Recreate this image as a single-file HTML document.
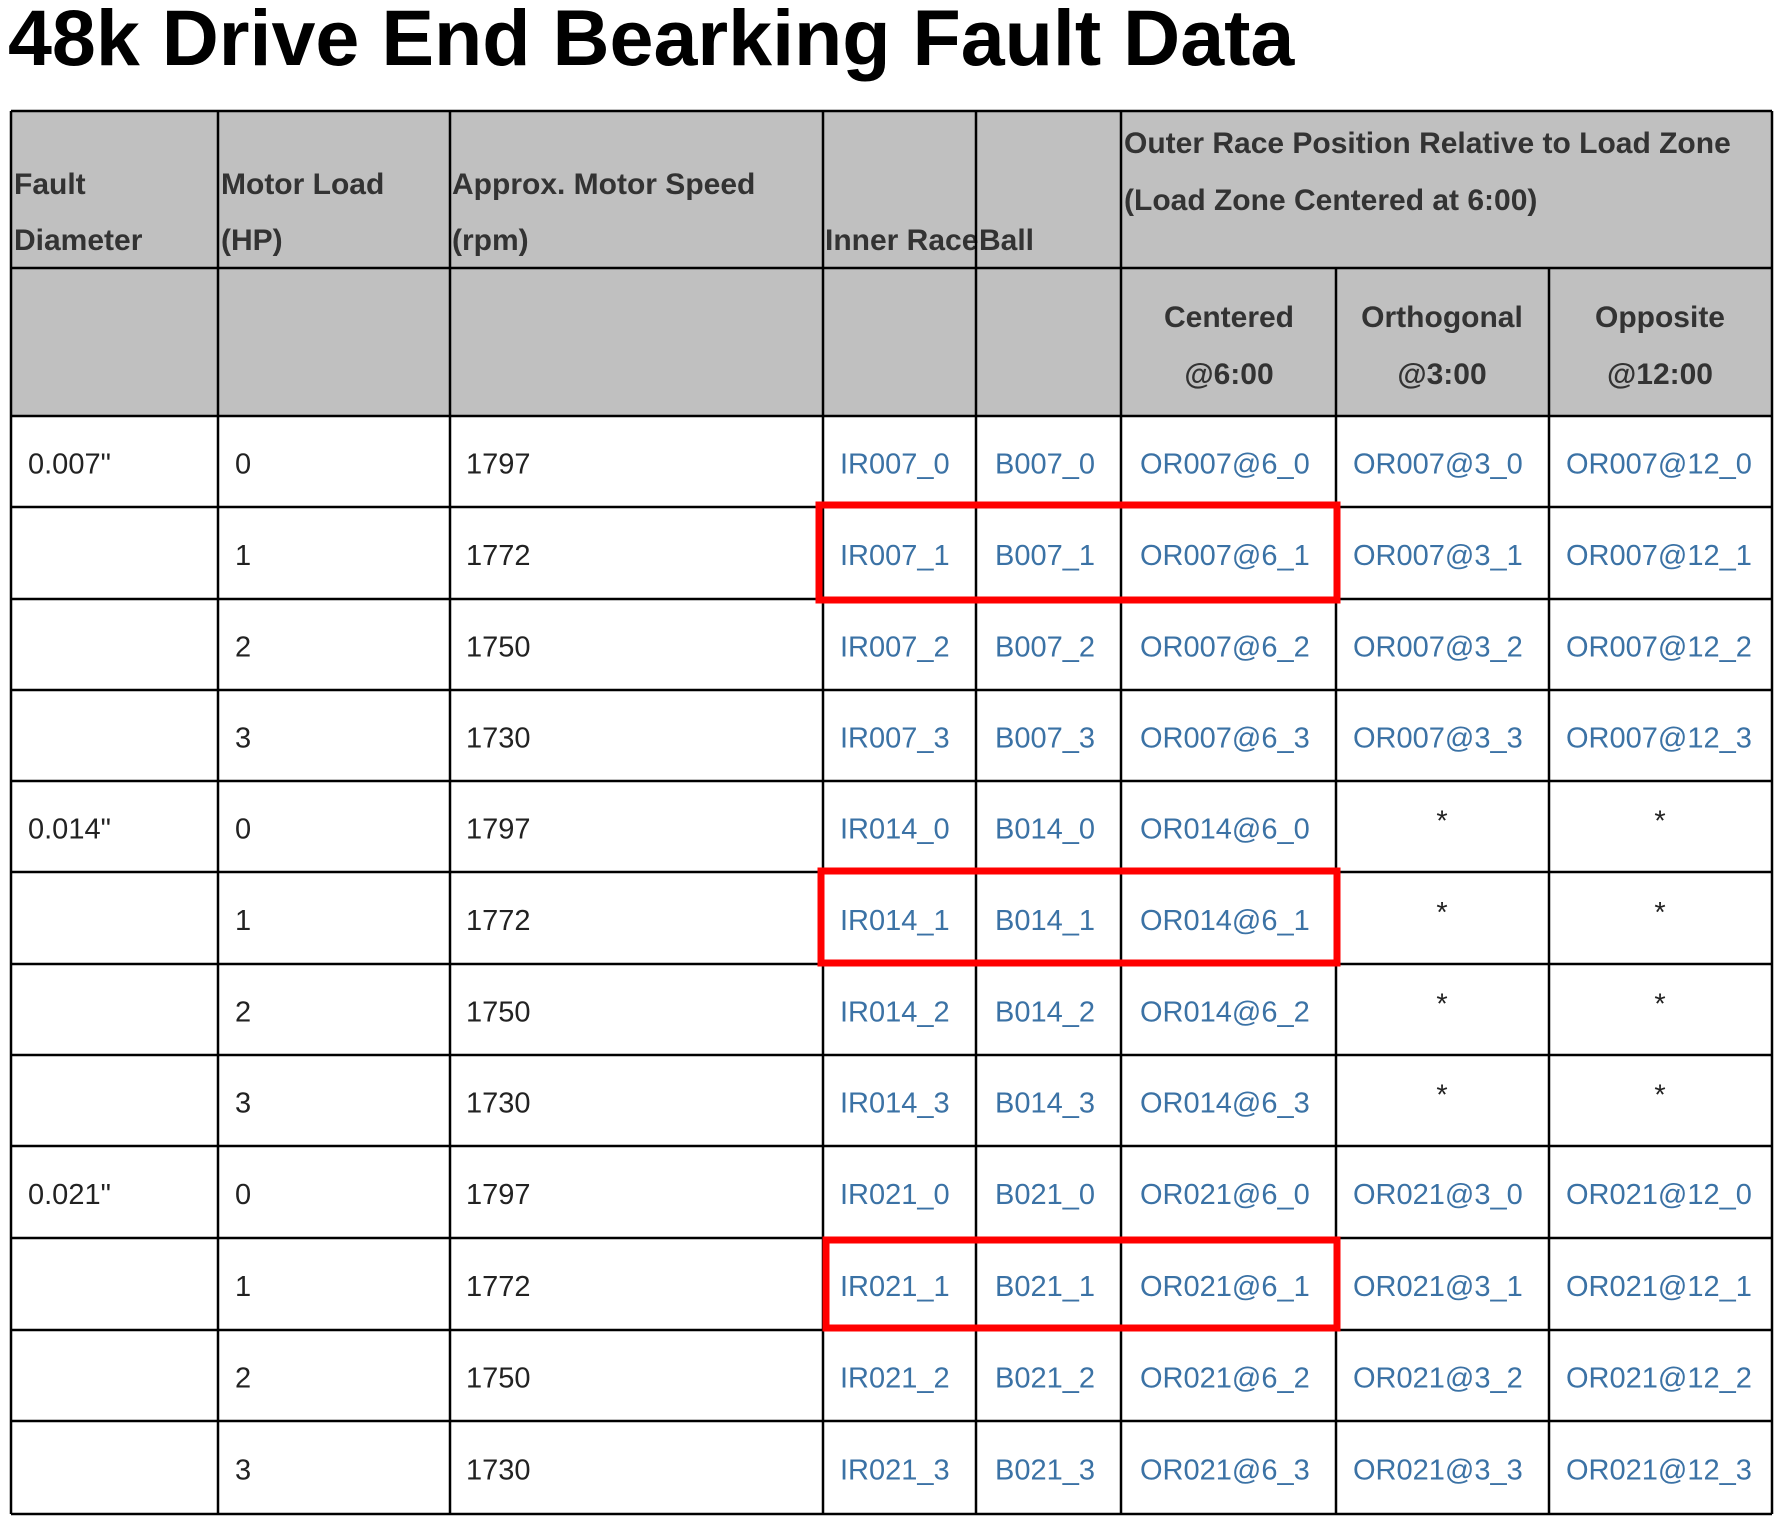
<!DOCTYPE html>
<html><head><meta charset="utf-8"><style>
html,body{margin:0;padding:0;background:#fff;width:1780px;height:1516px;overflow:hidden}
svg text{font-family:"Liberation Sans",sans-serif}
.h{font-weight:bold;font-size:30px;fill:#333}
.b{font-size:29px;fill:#222}
.l{font-size:29px;fill:#3b72a5}
</style></head><body>
<svg id="s" width="1780" height="1516" xmlns="http://www.w3.org/2000/svg">
<text x="8" y="65" font-size="79" font-weight="bold" fill="#000">48k Drive End Bearking Fault Data</text>
<rect x="11" y="111" width="1761" height="305" fill="#c0c0c0"/>
<g class="h">
<text x="14" y="194">Fault</text><text x="14" y="250">Diameter</text>
<text x="221" y="194">Motor Load</text><text x="221" y="250">(HP)</text>
<text x="452" y="194">Approx. Motor Speed</text><text x="452" y="250">(rpm)</text>
<text x="825" y="250">Inner Race</text>
<text x="979" y="250">Ball</text>
<text x="1124" y="153">Outer Race Position Relative to Load Zone</text>
<text x="1124" y="210">(Load Zone Centered at 6:00)</text>
<text x="1229" y="327" text-anchor="middle">Centered</text><text x="1229" y="384" text-anchor="middle">@6:00</text>
<text x="1442" y="327" text-anchor="middle">Orthogonal</text><text x="1442" y="384" text-anchor="middle">@3:00</text>
<text x="1660" y="327" text-anchor="middle">Opposite</text><text x="1660" y="384" text-anchor="middle">@12:00</text>
</g>
<g id="body"></g>
<g id="lines" stroke="#000" stroke-width="2.5"></g>
<g id="red" fill="none" stroke="#f00" stroke-width="7"></g>
</svg>
<script>
const NS="http://www.w3.org/2000/svg";
const diam=["0.007\"","","","","0.014\"","","","","0.021\"","","",""];
const loads=[0,1,2,3,0,1,2,3,0,1,2,3];
const speeds=[1797,1772,1750,1730,1797,1772,1750,1730,1797,1772,1750,1730];
const sizes=["007","007","007","007","014","014","014","014","021","021","021","021"];
const hasOrth=[1,1,1,1,0,0,0,0,1,1,1,1];
const colX=[11,218,450,823,976,1121,1336,1549,1772];
const rowY=[111,268,416,507,599,690,781,872,964,1055,1146,1238,1330,1421,1514];
const body=document.getElementById('body');
function t(x,y,cls,s,anchor){const e=document.createElementNS(NS,'text');e.setAttribute('x',x);e.setAttribute('y',y);e.setAttribute('class',cls);if(anchor)e.setAttribute('text-anchor',anchor);e.textContent=s;body.appendChild(e);return e;}
for(let i=0;i<12;i++){
  const y=(rowY[i+2]+rowY[i+3])/2+12;
  let e;
  e=t(28,y,'b',diam[i]);
  
  
  e=t(235,y,'b',String(loads[i]));
  
  
  e=t(466,y,'b',String(speeds[i]));
  
  
  const s=sizes[i],l=loads[i];
  e=t(840,y,'l','IR'+s+'_'+l);
  
  
  e=t(995,y,'l','B'+s+'_'+l);
  
  
  e=t(1140,y,'l','OR'+s+'@6_'+l);
  
  
  if(hasOrth[i]){
    e=t(1353,y,'l','OR'+s+'@3_'+l);
    
    
    e=t(1566,y,'l','OR'+s+'@12_'+l);
    
    
  } else {
    e=t(1442,y-8,'b','*','middle');
    
    
    e=t(1660,y-8,'b','*','middle');
    
    
  }
}
const lines=document.getElementById('lines');
function ln(x1,y1,x2,y2){const e=document.createElementNS(NS,'line');e.setAttribute('x1',x1);e.setAttribute('y1',y1);e.setAttribute('x2',x2);e.setAttribute('y2',y2);lines.appendChild(e);return e;}
rowY.forEach((y)=>{ ln(11,y,1772,y); });
colX.forEach((x,i)=>{ if(i>=6&&i<8) ln(x,268,x,1514); else ln(x,111,x,1514); });
const red=document.getElementById('red');
[[819,505,1337,600],[821,871,1337,963],[826,1240,1337,1328]].forEach(b=>{
  const r=document.createElementNS(NS,'rect');
  r.setAttribute('x',b[0]);r.setAttribute('y',b[1]);r.setAttribute('width',b[2]-b[0]);r.setAttribute('height',b[3]-b[1]);
  
  
  red.appendChild(r);
});
</script>
</body></html>
